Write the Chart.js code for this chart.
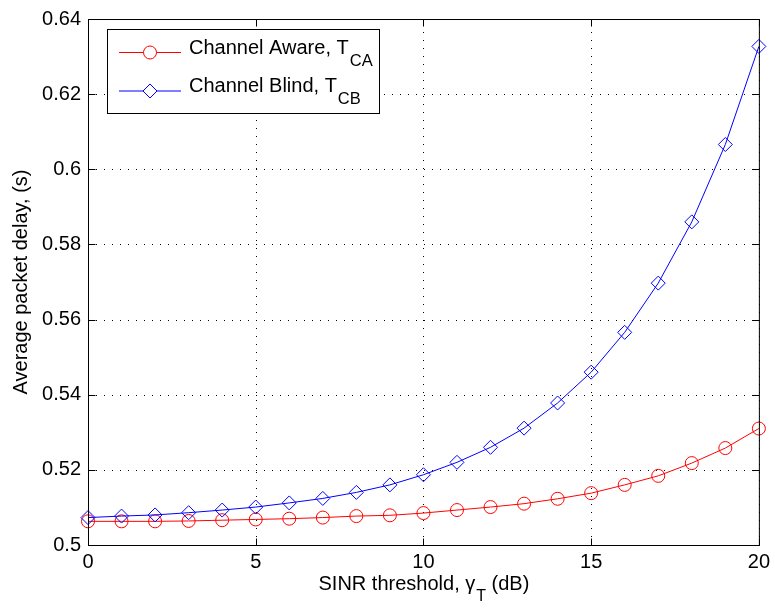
<!DOCTYPE html>
<html>
<head>
<meta charset="utf-8">
<script src="https://cdn.jsdelivr.net/npm/chart.js@4"></script>
<style>
  html, body { margin: 0; padding: 0; background: #fff; }
  #c { display: block; }
</style>
</head>
<body>
<canvas id="c" width="775" height="608"></canvas>
<script>
// SINR threshold (dB) and average packet delay (s) for both schemes
const sinrThreshold = [0, 1, 2, 3, 4, 5, 6, 7, 8, 9, 10, 11, 12, 13, 14, 15, 16, 17, 18, 19, 20];
const delayChannelAware = [0.5063, 0.5063, 0.5063, 0.5064, 0.5066, 0.5068, 0.5070, 0.5073, 0.5077, 0.5079, 0.5085,
                           0.5093, 0.5101, 0.5110, 0.5123, 0.5138, 0.5160, 0.5184, 0.5218, 0.5258, 0.5310];
const delayChannelBlind = [0.5073, 0.5077, 0.5080, 0.5086, 0.5093, 0.5101, 0.5112, 0.5124, 0.5140, 0.5160, 0.5187,
                           0.5220, 0.5260, 0.5311, 0.5378, 0.5460, 0.5566, 0.5697, 0.5860, 0.6066, 0.6327];
const xTicks = [0, 5, 10, 15, 20];
const yTicks = [0.5, 0.52, 0.54, 0.56, 0.58, 0.6, 0.62, 0.64];

const FONT = '"Liberation Sans", Arial, Helvetica, sans-serif';
const RED = '#ff0000';
const BLUE = '#0000ff';

// Text with a trailing subscript, e.g. T_CA
function drawSubText(ctx, x, y, main, sub, after, size, subSize, subDrop, align) {
  ctx.font = size + 'px ' + FONT;
  const w1 = ctx.measureText(main).width;
  ctx.font = subSize + 'px ' + FONT;
  const w2 = ctx.measureText(sub).width;
  ctx.font = size + 'px ' + FONT;
  const w3 = after ? ctx.measureText(after).width : 0;
  let x0 = x;
  if (align === 'center') x0 = x - (w1 + w2 + w3) / 2;
  ctx.textAlign = 'left';
  ctx.textBaseline = 'alphabetic';
  ctx.fillText(main, x0, y);
  ctx.font = subSize + 'px ' + FONT;
  ctx.fillText(sub, x0 + w1 + 1, y + subDrop);
  if (after) {
    ctx.font = size + 'px ' + FONT;
    ctx.fillText(after, x0 + w1 + w2 + 1, y);
  }
}

const axesBox = {
  id: 'axesBox',
  beforeDatasetsDraw(chart) {
    const { ctx, chartArea: a, scales: { x, y } } = chart;
    ctx.save();
    ctx.strokeStyle = '#000';
    ctx.lineWidth = 1;
    ctx.setLineDash([1, 7]);
    xTicks.forEach(v => {
      const px = Math.round(x.getPixelForValue(v)) + 0.5;
      ctx.beginPath();
      ctx.moveTo(px, a.bottom);
      ctx.lineTo(px, a.top);
      ctx.stroke();
    });
    yTicks.forEach(v => {
      const py = Math.round(y.getPixelForValue(v)) + 0.5;
      ctx.beginPath();
      ctx.moveTo(a.left, py);
      ctx.lineTo(a.right, py);
      ctx.stroke();
    });
    ctx.restore();
  },
  afterDatasetsDraw(chart) {
    const { ctx, chartArea: a, scales: { x, y } } = chart;
    ctx.save();
    // frame and inward tick marks
    ctx.strokeStyle = '#000';
    ctx.lineWidth = 1;
    ctx.setLineDash([]);
    const L = a.left + 0.5, R = a.right + 0.5, T = a.top + 0.5, B = a.bottom + 0.5;
    ctx.strokeRect(L, T, R - L, B - T);
    const tl = 7;
    ctx.beginPath();
    xTicks.forEach(v => {
      const px = Math.round(x.getPixelForValue(v)) + 0.5;
      ctx.moveTo(px, B); ctx.lineTo(px, B - tl);
      ctx.moveTo(px, T); ctx.lineTo(px, T + tl);
    });
    yTicks.forEach(v => {
      const py = Math.round(y.getPixelForValue(v)) + 0.5;
      ctx.moveTo(L, py); ctx.lineTo(L + tl, py);
      ctx.moveTo(R, py); ctx.lineTo(R - tl, py);
    });
    ctx.stroke();

    // legend
    const bx = 107.5, by = 29.5, bw = 272, bh = 84;
    ctx.fillStyle = '#fff';
    ctx.fillRect(bx, by, bw, bh);
    ctx.strokeRect(bx, by, bw, bh);
    const rows = [
      { yc: 52.5, color: RED, style: 'circle', r: 6.5, main: 'Channel Aware, T', sub: 'CA' },
      { yc: 91, color: BLUE, style: 'rectRot', r: 7, main: 'Channel Blind, T', sub: 'CB' }
    ];
    rows.forEach(row => {
      ctx.strokeStyle = row.color;
      ctx.lineWidth = 1;
      ctx.beginPath();
      ctx.moveTo(119, row.yc);
      ctx.lineTo(181, row.yc);
      ctx.stroke();
      ctx.fillStyle = '#fff';
      Chart.helpers.drawPoint(ctx, { pointStyle: row.style, radius: row.r, borderWidth: 1, rotation: 0 }, 150, row.yc);
      ctx.fillStyle = '#000';
      drawSubText(ctx, 189, row.yc + 1, row.main, row.sub, '', 20, 16.5, 12, 'left');
    });

    // axis titles
    ctx.fillStyle = '#000';
    drawSubText(ctx, (a.left + a.right) / 2, 590, 'SINR threshold, \u03B3', 'T', ' (dB)', 20, 16, 11, 'center');
    ctx.save();
    ctx.translate(27, (a.top + a.bottom) / 2);
    ctx.rotate(-Math.PI / 2);
    ctx.font = '20px ' + FONT;
    ctx.textAlign = 'center';
    ctx.textBaseline = 'alphabetic';
    ctx.fillText('Average packet delay, (s)', 0, 0);
    ctx.restore();
    ctx.restore();
  }
};

new Chart(document.getElementById('c'), {
  type: 'line',
  data: {
    datasets: [
      {
        label: 'Channel Aware, T_CA',
        data: sinrThreshold.map((v, i) => ({ x: v, y: delayChannelAware[i] })),
        borderColor: RED,
        backgroundColor: 'rgba(0,0,0,0)',
        borderWidth: 1,
        pointStyle: 'circle',
        pointRadius: 6.5,
        pointBorderWidth: 1,
        pointBorderColor: RED,
        pointBackgroundColor: 'rgba(0,0,0,0)',
        tension: 0,
        clip: false,
        order: 2
      },
      {
        label: 'Channel Blind, T_CB',
        data: sinrThreshold.map((v, i) => ({ x: v, y: delayChannelBlind[i] })),
        borderColor: BLUE,
        backgroundColor: 'rgba(0,0,0,0)',
        borderWidth: 1,
        pointStyle: 'rectRot',
        pointRadius: 7,
        pointBorderWidth: 1,
        pointBorderColor: BLUE,
        pointBackgroundColor: 'rgba(0,0,0,0)',
        tension: 0,
        clip: false,
        order: 1
      }
    ]
  },
  options: {
    responsive: false,
    animation: false,
    devicePixelRatio: 1,
    layout: { padding: { left: 0, right: 15, top: 16, bottom: 0 } },
    plugins: { legend: { display: false }, tooltip: { enabled: false } },
    scales: {
      x: {
        type: 'linear',
        min: 0,
        max: 20,
        afterBuildTicks: s => { s.ticks = xTicks.map(v => ({ value: v })); },
        afterFit: s => { s.height = 63; },
        grid: { display: false, drawTicks: false },
        border: { display: false },
        ticks: { color: '#000', font: { family: FONT, size: 20 }, padding: 5, maxRotation: 0 }
      },
      y: {
        type: 'linear',
        min: 0.5,
        max: 0.64,
        afterBuildTicks: s => { s.ticks = yTicks.map(v => ({ value: v })); },
        afterFit: s => { s.width = 88; },
        grid: { display: false, drawTicks: false },
        border: { display: false },
        ticks: {
          color: '#000',
          font: { family: FONT, size: 20 },
          padding: 7,
          callback: v => String(+Number(v).toFixed(2))
        }
      }
    }
  },
  plugins: [axesBox]
});
</script>
</body>
</html>
